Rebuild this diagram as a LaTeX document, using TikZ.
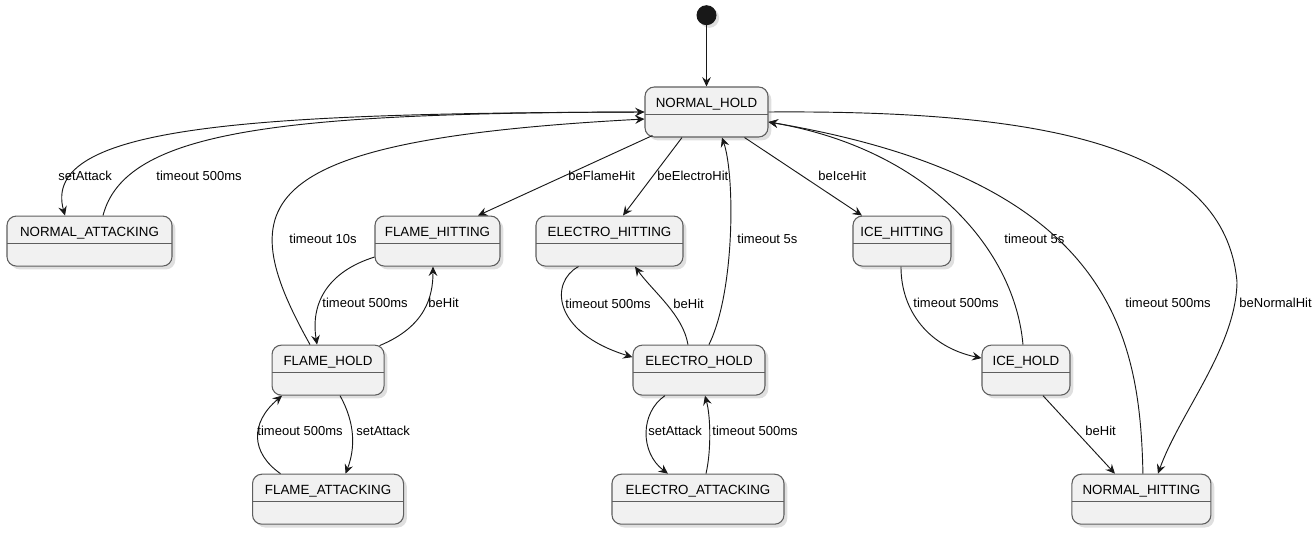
\documentclass[tikz,border=0pt]{standalone}
\usepackage{fontspec}
\setmainfont{Liberation Sans}
\usetikzlibrary{positioning}
\usetikzlibrary{arrows.meta}
\usetikzlibrary{shadows}

\definecolor{statefill}{HTML}{F1F1F1}
\definecolor{stateline}{HTML}{5E5E5E}
\definecolor{edgeline}{HTML}{181818}

\tikzset{
  state/.style={draw=stateline, fill=statefill, line width=0.8pt, rounded corners=7pt,
    inner xsep=0pt, inner ysep=0pt, text height=15pt, text depth=22.5pt,
    font=\fontsize{10}{12}\selectfont,
    drop shadow={shadow xshift=2.5pt, shadow yshift=-2.5pt, opacity=0.25},
    path picture={\draw[stateline, line width=0.6pt]
      ([yshift=-20.25pt]path picture bounding box.north west) --
      ([yshift=-20.25pt]path picture bounding box.north east);}},
  init/.style={circle, fill=edgeline, minimum size=15pt, inner sep=0pt,
    drop shadow={shadow xshift=2pt, shadow yshift=-2pt, opacity=0.25}},
  tr/.style={draw=edgeline, line width=0.7pt, -{Stealth[length=7pt,width=6.5pt,inset=2.5pt]}},
  lbl/.style={font=\fontsize{9.75}{11}\selectfont, inner sep=0pt, anchor=west,
    text height=7pt, text depth=2pt}
}

\begin{document}
\begin{tikzpicture}[x=0.75pt, y=-0.75pt]
    \useasboundingbox (0,0) rectangle (1313,532);

    \node[state, minimum width=92.25pt] (nh) at (706.5,112) {NORMAL\_HOLD};
    \node[init, above=45.75pt of nh] (init) {};

    \node[state, minimum width=123.75pt, below=58.5pt of nh, xshift=-462.75pt] (na) {NORMAL\_ATTACKING};
    \node[state, minimum width=93.75pt, below=58.5pt of nh, xshift=-201.75pt] (fhit) {FLAME\_HITTING};
    \node[state, minimum width=110.25pt, below=58.5pt of nh, xshift=-72.75pt] (ehit) {ELECTRO\_HITTING};
    \node[state, minimum width=73.5pt, below=58.5pt of nh, xshift=146.6pt] (ihit) {ICE\_HITTING};

    \node[state, minimum width=84pt, below=58.5pt of fhit, xshift=-82.1pt] (fhold) {FLAME\_HOLD};
    \node[state, minimum width=99pt, below=58.5pt of ehit, xshift=67.1pt] (ehold) {ELECTRO\_HOLD};
    \node[state, minimum width=66pt, below=58.5pt of ihit, xshift=93pt] (ihold) {ICE\_HOLD};

    \node[state, minimum width=113.25pt, below=58.5pt of fhold] (fatt) {FLAME\_ATTACKING};
    \node[state, minimum width=129pt, below=58.5pt of ehold, xshift=-0.75pt] (eatt) {ELECTRO\_ATTACKING};
    \node[state, minimum width=104.25pt, below=58.5pt of ihold, xshift=86.6pt] (nhit) {NORMAL\_HITTING};

    % Edges
    \draw[tr] (init) -- (nh);

    \draw[tr] (nh.west) .. controls +(-395,1) and +(-25,-90) .. ([shift={(-24.5,0)}]na.north)
      node[lbl, at={(58,177)}] (lNa1) {setAttack};
    \draw[tr] ([shift={(13.5,0)}]na.north) .. controls +(22,-85) and +(-365,1) .. (nh.west)
      node[lbl, at={(156,177)}] (lNa2) {timeout 500ms};
    \draw[tr] ([shift={(-18,0)}]fhold.north) .. controls +(-80,-143) and +(-395,21) .. ([shift={(0,7)}]nh.west)
      node[lbl, at={(289,240)}] (lF1) {timeout 10s};

    \draw[tr] ([shift={(8,-2)}]nh.south west) -- ([shift={(40.5,0)}]fhit.north)
      node[lbl, at={(568,177)}] (lF2) {beFlameHit};
    \draw[tr] ([shift={(-24.5,0)}]nh.south) -- ([shift={(13.5,0)}]ehit.north)
      node[lbl, at={(657,177)}] (lE1) {beElectroHit};
    \draw[tr] ([shift={(10,0)}]ehold.north) .. controls +(26,-53) and +(13,38) .. ([shift={(15.5,0)}]nh.south)
      node[lbl, at={(737,240)}] (lE2) {timeout 5s};
    \draw[tr] ([shift={(38,0)}]nh.south) -- ([shift={(-40,0)}]ihit.north)
      node[lbl, at={(818,177)}] (lI1) {beIceHit};
    \draw[tr] ([shift={(-3,0)}]ihold.north) .. controls +(-8,-93) and +(162,28) .. ([shift={(0,10)}]nh.east)
      node[lbl, at={(1004,240)}] (lI2) {timeout 5s};
    \draw[tr] ([shift={(1.5,0)}]nhit.north) .. controls +(-3,-141) and +(342,58) .. ([shift={(0,10)}]nh.east)
      node[lbl, at={(1125,304)}] (lN1) {timeout 500ms};
    \draw[tr] (nh.east) .. controls +(282,-2) and +(-12,-135) .. (1237,282)
      .. controls +(-1,65) and +(22,-61) .. ([shift={(16.5,0)}]nhit.north)
      node[lbl, at={(1239,304)}] (lN2) {beNormalHit};

    \draw[tr] ([shift={(0,16)}]fhit.west) .. controls +(-45,14) and +(-7,-43) .. ([shift={(-11,0)}]fhold.north)
      node[lbl, at={(322,304)}] (lF3) {timeout 500ms};
    \draw[tr] ([shift={(-5,1)}]fhold.north east) .. controls +(46,-19) and +(0,30) .. ([shift={(-4.5,0)}]fhit.south)
      node[lbl, at={(428,304)}] (lF4) {beHit};
    \draw[tr] ([shift={(12,0)}]fhold.south) .. controls +(15,27) and +(10,-26) .. ([shift={(17.5,0)}]fatt.north)
      node[lbl, at={(356,432)}] (lF5) {setAttack};
    \draw[tr] ([shift={(-47.5,0)}]fatt.north) .. controls +(-30,-21) and +(-32,27) .. ([shift={(-46,0)}]fhold.south)
      node[lbl, at={(257,432)}] (lF6) {timeout 500ms};

    \draw[tr] ([shift={(-31,0)}]ehit.south) .. controls +(-28.5,15) and +(-81,-25) .. ([shift={(0,-13)}]ehold.west)
      node[lbl, at={(565,305)}] (lE3) {timeout 500ms};
    \draw[tr] ([shift={(-11,0)}]ehold.north) .. controls +(-5,-30) and +(18,25) .. ([shift={(25.5,0)}]ehit.south)
      node[lbl, at={(673,305)}] (lE4) {beHit};
    \draw[tr] ([shift={(-34,0)}]ehold.south) .. controls +(-25,17) and +(-28,-21) .. ([shift={(-30,0)}]eatt.north)
      node[lbl, at={(648,432)}] (lE5) {setAttack};
    \draw[tr] ([shift={(8,0)}]eatt.north) .. controls +(5,-21) and +(6,22) .. ([shift={(6,0)}]ehold.south)
      node[lbl, at={(712,432)}] (lE6) {timeout 500ms};

    \draw[tr] ([shift={(-1,0)}]ihit.south) .. controls +(0,45) and +(-52,-11) .. ([shift={(0,-12)}]ihold.west)
      node[lbl, at={(913,304)}] (lI3) {timeout 500ms};
    \draw[tr] ([shift={(17,0)}]ihold.south) -- ([shift={(-26.5,0)}]nhit.north)
      node[lbl, at={(1085,432)}] (lI4) {beHit};
\end{tikzpicture}
\end{document}
